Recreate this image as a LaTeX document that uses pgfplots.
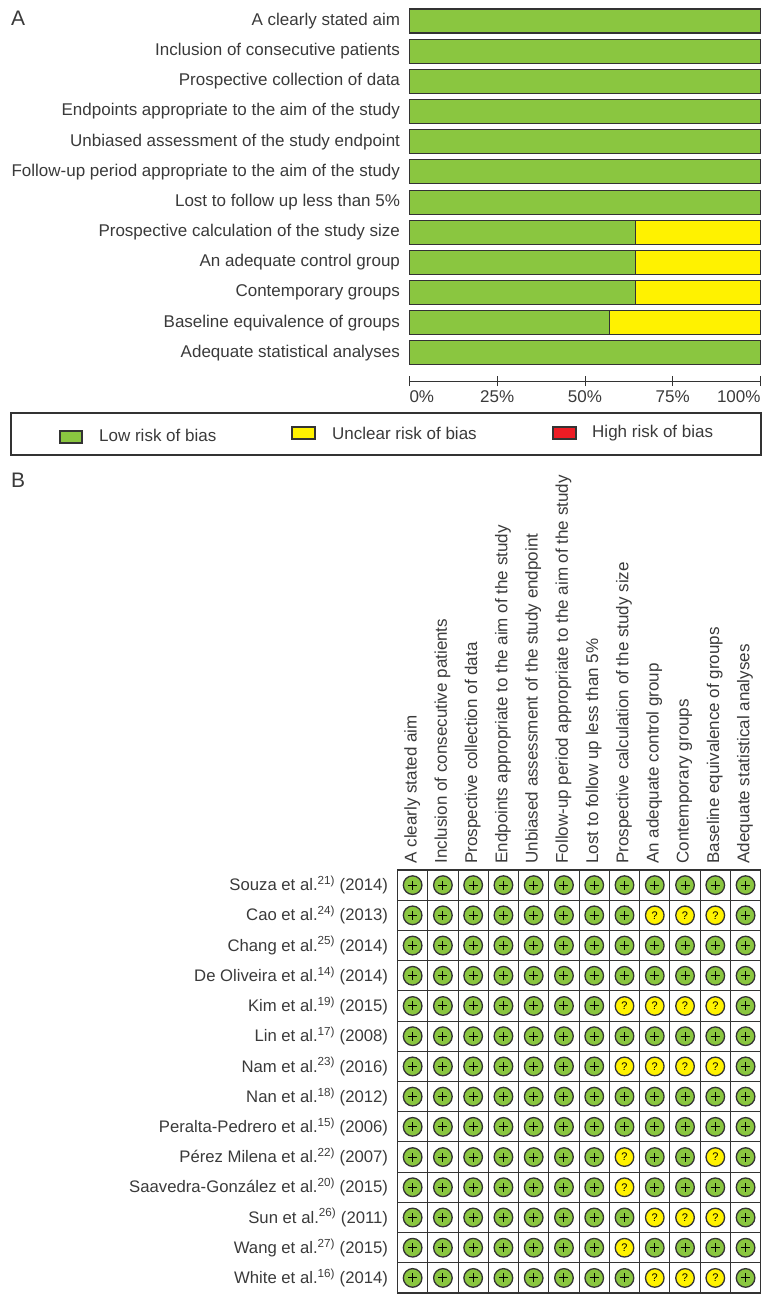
\documentclass[border=0pt]{standalone}
\usepackage{fontspec}
\setmainfont{Liberation Sans}
\usepackage{pgfplots}
\usepackage{pgfplotstable}
\pgfplotsset{compat=1.18}

\definecolor{lowgreen}{HTML}{8AC640}
\definecolor{unclearyellow}{HTML}{FFF200}
\definecolor{highred}{HTML}{ED1C24}
\definecolor{edge}{HTML}{333333}
\definecolor{txt}{HTML}{3A3A3A}

\pgfdeclareplotmark{rplus}{%
  \pgfpathcircle{\pgfpointorigin}{\pgfplotmarksize}
  \pgfsetfillcolor{lowgreen}\pgfsetstrokecolor{edge}
  \pgfsetlinewidth{1.3bp}
  \pgfusepathqfillstroke
  \pgfpathmoveto{\pgfqpoint{-4.5bp}{0bp}}\pgfpathlineto{\pgfqpoint{4.5bp}{0bp}}
  \pgfpathmoveto{\pgfqpoint{0bp}{-4.5bp}}\pgfpathlineto{\pgfqpoint{0bp}{4.5bp}}
  \pgfsetlinewidth{1bp}\pgfsetstrokecolor{black}
  \pgfusepathqstroke}

% percentage of studies per item, top row = 11
\pgfplotstableread{
y  low   unclear high
11 100   0       0
10 100   0       0
9  100   0       0
8  100   0       0
7  100   0       0
6  100   0       0
5  100   0       0
4  64.3  35.7    0
3  64.3  35.7    0
2  64.3  35.7    0
1  57.1  42.9    0
0  100   0       0
}\summarytable

\newcommand{\lab}[1]{\fontsize{17bp}{19bp}\selectfont\color{txt}#1}
\newcommand{\labb}[1]{\fontsize{16.7bp}{19bp}\selectfont\color{txt}#1}
\newcommand{\sref}[1]{\textsuperscript{#1)}}

\begin{document}
\begin{tikzpicture}[x=1bp,y=1bp]
\path[use as bounding box] (0,0) rectangle (767,-1298);

% panel A
\begin{axis}[
  at={(409.5bp,-381bp)}, anchor=south west,
  scale only axis, width=351bp, height=375bp,
  xmin=0, xmax=100, ymin=-0.93, ymax=11.497,
  xbar stacked, bar width=24bp,
  axis x line*=bottom, axis y line*=left,
  y axis line style={draw=none},
  x axis line style={draw=edge,line width=1bp,-},
  xtick={0,25,50,75,100},
  xticklabels={\makebox[0pt][l]{0\%},25\%,50\%,75\%,\makebox[0pt][r]{100\%}},
  x tick style={draw=edge,line width=1bp},
  tick align=center, major tick length=10bp,
  x tick label style={yshift=-1bp},
  ytick={0,...,11},
  y tick style={draw=none},
  yticklabels={Adequate statistical analyses,Baseline equivalence of groups,Contemporary groups,An adequate control group,Prospective calculation of the study size,Lost to follow up less than 5\%,Follow-up period appropriate to the aim of the study,Unbiased assessment of the study endpoint,Endpoints appropriate to the aim of the study,Prospective collection of data,Inclusion of consecutive patients,A clearly stated aim},
  tick label style={font=\lab},
  y tick label style={xshift=-1bp},
  clip=false,
]
\addplot[fill=lowgreen,draw=edge,line width=1.1bp] table[x=low,y=y] {\summarytable};
\addplot[fill=unclearyellow,draw=edge,line width=1.1bp] table[x=unclear,y=y] {\summarytable};
\addplot[fill=highred,draw=edge,line width=1.1bp] table[x=high,y=y] {\summarytable};
\end{axis}

\node[anchor=base west,inner sep=0pt,font=\fontsize{21bp}{23bp}\selectfont,text=txt] at (11,-25) {A};
\node[anchor=base west,inner sep=0pt,font=\fontsize{21bp}{23bp}\selectfont,text=txt] at (11,-487) {B};

% legend box
\draw[edge,line width=1.2bp] (11,-413) rectangle (761,-455);
\draw[edge,line width=1.1bp,fill=lowgreen] (60,-431) rectangle (82,-443);
\draw[edge,line width=1.1bp,fill=unclearyellow] (292,-427) rectangle (315,-439);
\draw[edge,line width=1.1bp,fill=highred] (553,-427) rectangle (576,-439);
\node[anchor=base west,inner sep=0pt,font=\lab] at (99,-441.5) {Low risk of bias};
\node[anchor=base west,inner sep=0pt,font=\lab] at (332,-439.5) {Unclear risk of bias};
\node[anchor=base west,inner sep=0pt,font=\lab] at (592,-437.5) {High risk of bias};

% panel B
\begin{axis}[
  at={(397.5bp,-1293bp)}, anchor=south west,
  scale only axis, width=363.2bp, height=423bp,
  xmin=0.5, xmax=12.5, ymin=0.5, ymax=14.5, y dir=reverse,
  xtick={1,...,12}, ytick={1,...,14},
  minor xtick={0.5,1.5,...,12.5}, minor ytick={0.5,1.5,...,14.5},
  grid=minor, minor grid style={draw=edge,line width=1bp},
  axis line style={draw=edge,line width=1.1bp},
  major tick length=0pt, minor tick length=0pt,
  xticklabel pos=top,
  xticklabels={A clearly stated aim,Inclusion of consecutive patients,Prospective collection of data,Endpoints appropriate to the aim of the study,Unbiased assessment of the study endpoint,Follow-up period appropriate to the aim of the study,Lost to follow up less than 5\%,Prospective calculation of the study size,An adequate control group,Contemporary groups,Baseline equivalence of groups,Adequate statistical analyses},
  x tick label style={font=\lab,rotate=90,anchor=west,xshift=3bp,yshift=0.5bp},
  yticklabels={Souza et al.\sref{21} (2014),Cao et al.\sref{24} (2013),Chang et al.\sref{25} (2014),De Oliveira et al.\sref{14} (2014),Kim et al.\sref{19} (2015),Lin et al.\sref{17} (2008),Nam et al.\sref{23} (2016),Nan et al.\sref{18} (2012),Peralta-Pedrero et al.\sref{15} (2006),Pérez Milena et al.\sref{22} (2007),Saavedra-González et al.\sref{20} (2015),Sun et al.\sref{26} (2011),Wang et al.\sref{27} (2015),White et al.\sref{16} (2014)},
  y tick label style={font=\labb,xshift=-6bp},
  clip=false,
]
\addplot[only marks,mark=rplus,mark size=9.3bp] coordinates {
 (1,1)(2,1)(3,1)(4,1)(5,1)(6,1)(7,1)(8,1)(9,1)(10,1)(11,1)(12,1)
 (1,2)(2,2)(3,2)(4,2)(5,2)(6,2)(7,2)(8,2)(12,2)
 (1,3)(2,3)(3,3)(4,3)(5,3)(6,3)(7,3)(8,3)(9,3)(10,3)(11,3)(12,3)
 (1,4)(2,4)(3,4)(4,4)(5,4)(6,4)(7,4)(8,4)(9,4)(10,4)(11,4)(12,4)
 (1,5)(2,5)(3,5)(4,5)(5,5)(6,5)(7,5)(12,5)
 (1,6)(2,6)(3,6)(4,6)(5,6)(6,6)(7,6)(8,6)(9,6)(10,6)(11,6)(12,6)
 (1,7)(2,7)(3,7)(4,7)(5,7)(6,7)(7,7)(12,7)
 (1,8)(2,8)(3,8)(4,8)(5,8)(6,8)(7,8)(8,8)(9,8)(10,8)(11,8)(12,8)
 (1,9)(2,9)(3,9)(4,9)(5,9)(6,9)(7,9)(8,9)(9,9)(10,9)(11,9)(12,9)
 (1,10)(2,10)(3,10)(4,10)(5,10)(6,10)(7,10)(9,10)(10,10)(12,10)
 (1,11)(2,11)(3,11)(4,11)(5,11)(6,11)(7,11)(9,11)(10,11)(11,11)(12,11)
 (1,12)(2,12)(3,12)(4,12)(5,12)(6,12)(7,12)(8,12)(12,12)
 (1,13)(2,13)(3,13)(4,13)(5,13)(6,13)(7,13)(9,13)(10,13)(11,13)(12,13)
 (1,14)(2,14)(3,14)(4,14)(5,14)(6,14)(7,14)(8,14)(12,14)
};
\addplot[only marks,mark=*,mark size=9.3bp,
  mark options={fill=unclearyellow,draw=edge,line width=1.3bp},
  nodes near coords={?},
  every node near coord/.style={anchor=center,inner sep=0pt,text=black,
    font=\fontsize{11bp}{12bp}\selectfont}] coordinates {
 (9,2)(10,2)(11,2)
 (8,5)(9,5)(10,5)(11,5)
 (8,7)(9,7)(10,7)(11,7)
 (8,10)(11,10)
 (8,11)
 (9,12)(10,12)(11,12)
 (8,13)
 (9,14)(10,14)(11,14)
};
\end{axis}
\end{tikzpicture}
\end{document}
